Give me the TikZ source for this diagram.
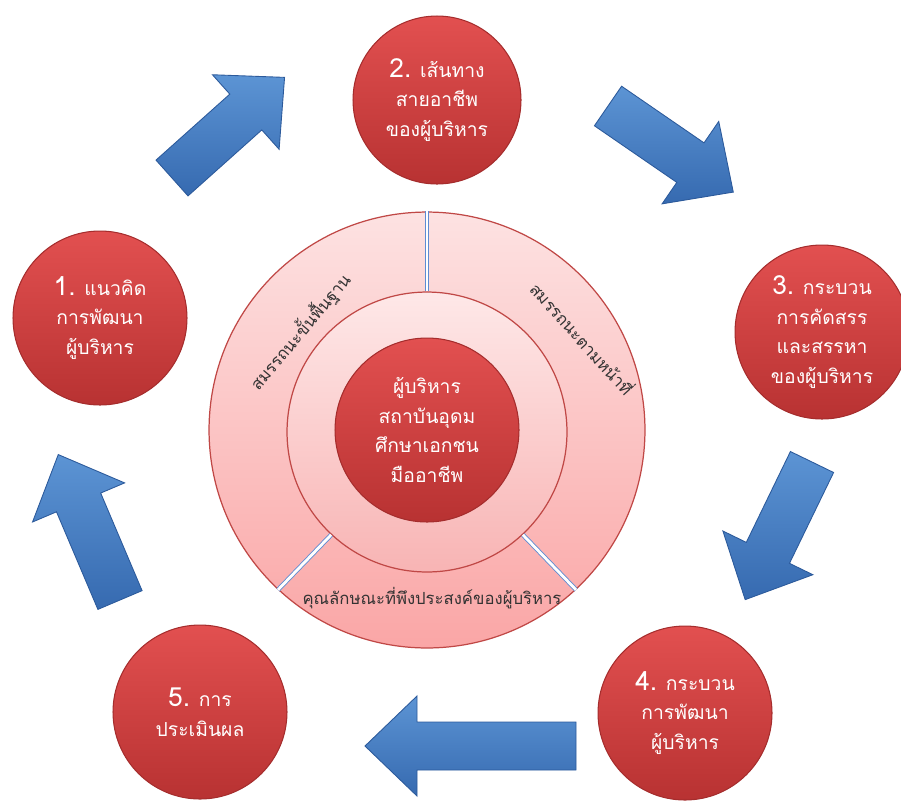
\documentclass[tikz,border=0pt]{standalone}
\usepackage{fontspec}
\newfontfamily\thaifont[Script=Thai]{Loma}
\definecolor{stagetop}{RGB}{226,80,80}
\definecolor{stagebot}{RGB}{184,50,50}
\definecolor{stageedge}{RGB}{165,45,45}
\definecolor{ringtop}{RGB}{253,226,226}
\definecolor{ringbot}{RGB}{250,166,166}
\definecolor{ringedge}{RGB}{192,72,70}
\definecolor{midtop}{RGB}{254,232,232}
\definecolor{midbot}{RGB}{248,180,180}
\definecolor{arrowtop}{RGB}{92,148,212}
\definecolor{arrowbot}{RGB}{54,106,176}
\definecolor{arrowedge}{RGB}{44,90,155}
\definecolor{sepblue}{RGB}{95,140,210}

% block arrow: tail point, angle, length
\newcommand\flowarrow[3]{%
  \begin{scope}[shift={(#1)},rotate=#2]
    \draw[arrowbody] (0,-24) -- ({#3-52},-24) -- ({#3-52},-50) -- (#3,0)
      -- ({#3-52},50) -- ({#3-52},24) -- (0,24) -- cycle;
  \end{scope}}
\newcommand\stagenum[1]{{\fontsize{15}{17}\selectfont #1}}

\begin{document}
\begin{tikzpicture}[x=0.02cm,y=-0.02cm,
    stagebox/.style={circle,draw=stageedge,line width=0.6pt,top color=stagetop,
      bottom color=stagebot,text=white,align=center,minimum size=3.48cm,
      font=\thaifont\fontsize{11}{17}\selectfont},
    ringbox/.style={circle,draw=ringedge,line width=0.7pt,top color=ringtop,bottom color=ringbot},
    midbox/.style={circle,draw=ringedge,line width=0.7pt,top color=midtop,bottom color=midbot},
    ringlabel/.style={text=black!80,font=\thaifont\fontsize{9.5}{11}\selectfont},
    sepline/.style={draw=sepblue,double=white,double distance=1.6pt,line width=0.5pt},
    arrowbody/.style={draw=arrowedge,line width=0.5pt,top color=arrowtop,bottom color=arrowbot}]

    \useasboundingbox (0,0) rectangle (901,809);

    % centre rings
    \node[ringbox,minimum size=8.72cm] (outer) at (427,430) {};
    \node[midbox,minimum size=5.6cm] (middle) at (427,432) {};
    \node[stagebox,minimum size=3.68cm] (core) at (427,430)
      {ผู้บริหาร\\สถาบันอุดม\\ศึกษาเอกชน\\มืออาชีพ};

    \draw[sepline] (middle.90) -- (outer.90);
    \draw[sepline] (middle.-133) -- (outer.-133);
    \draw[sepline] (middle.-47) -- (outer.-47);

    \node[ringlabel,rotate=50] (basic) at (300,332) {สมรรถนะขั้นพื้นฐาน};
    \node[ringlabel,rotate=-48] (duty) at (583,338) {สมรรถนะตามหน้าที่};
    \node[ringlabel] (trait) at (432,598) {คุณลักษณะที่พึงประสงค์ของผู้บริหาร};

    % the five stages
    \node[stagebox] (c1) at (100,318) {\stagenum{1.} แนวคิด\\การพัฒนา\\ผู้บริหาร};
    \node[stagebox,minimum size=3.36cm] (c2) at (437,100) {\stagenum{2.} เส้นทาง\\สายอาชีพ\\ของผู้บริหาร};
    \node[stagebox] (c3) at (822,332) {\stagenum{3.} กระบวน\\การคัดสรร\\และสรรหา\\ของผู้บริหาร};
    \node[stagebox] (c4) at (685,713) {\stagenum{4.} กระบวน\\การพัฒนา\\ผู้บริหาร};
    \node[stagebox] (c5) at (200,712) {\stagenum{5.} การ\\ประเมินผล};

    % arrows between stages
    \coordinate (a12) at (172,178);
    \coordinate (a23) at (608,106);
    \coordinate (a34) at (812,462);
    \coordinate (a45) at (576,746);
    \coordinate (a51) at (120,600);
    \flowarrow{a12}{41.8}{151}
    \flowarrow{a23}{-34.5}{152}
    \flowarrow{a34}{-115.9}{153}
    \flowarrow{a45}{180}{211}
    \flowarrow{a51}{113}{158}

\end{tikzpicture}
\end{document}
